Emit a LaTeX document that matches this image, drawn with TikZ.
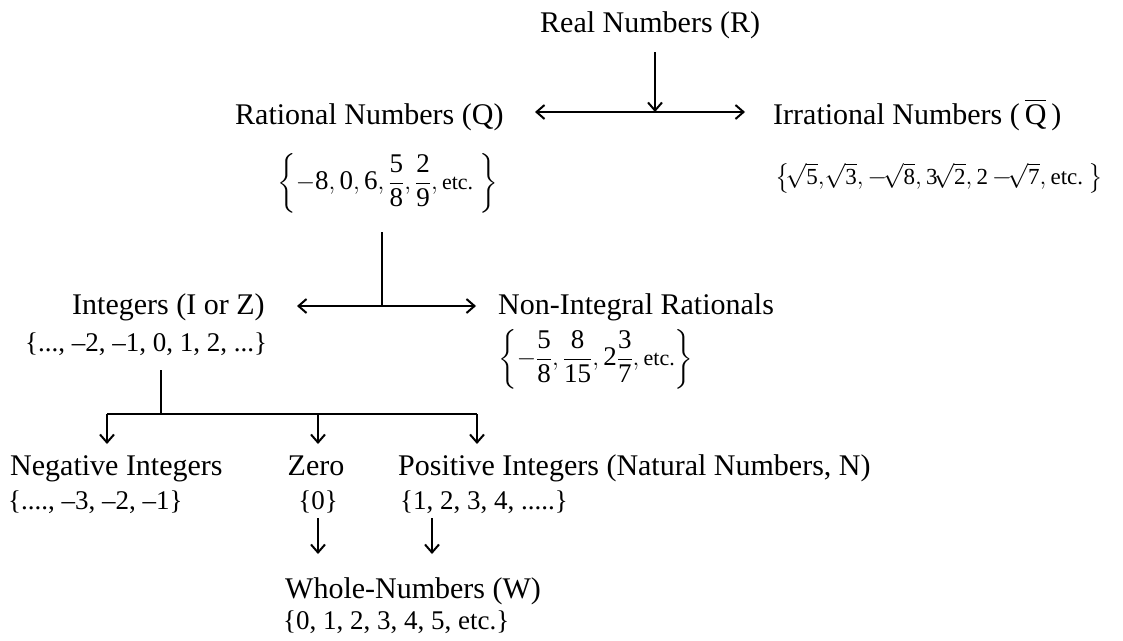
\documentclass[tikz,border=0pt]{standalone}
\usepackage{amsmath}
\usepackage{fontspec}
\setmainfont{Liberation Serif}
\usetikzlibrary{arrows.meta}
\newcommand{\tx}[1]{\text{#1}}
\newcommand{\fr}[2]{\dfrac{\text{#1}}{\text{#2}}}
\tikzset{
  lbl/.style={font=\fontsize{30}{34}\selectfont, inner sep=0pt},
  setl/.style={font=\fontsize{27}{31}\selectfont, inner sep=0pt},
  conn/.style={line width=2pt},
  tipA/.tip={Straight Barb[length=8pt,width=14pt,line width=2pt]},
  arr/.style={conn,-tipA},
}
\begin{document}
\begin{tikzpicture}[x=1pt,y=-1pt]
\useasboundingbox (0,0) rectangle (1123,640);
% level 1
\node[lbl,anchor=base west] (real) at (540,32) {Real Numbers (R)};
\node[lbl,anchor=base west] (rat) at (235,124) {Rational Numbers (Q)};
\node[lbl,anchor=base west] (irr) at (773,124) {Irrational Numbers (\,$\overline{\mathrm{Q}}$\,)};
\node[setl,anchor=west] (ratset) at (277,183) {$\displaystyle\left\{-\tx{8},\tx{0},\tx{6},\fr{5}{8},\fr{2}{9},\tx{\fontsize{22}{24}\selectfont etc.}\ \right\}$};
\node[setl,anchor=west] (irrset) at (775,178) {\fontsize{23}{27}\selectfont$\left\{\!\sqrt{\tx{5}},\!\sqrt{\tx{3}},-\!\sqrt{\tx{8}},\tx{3}\!\sqrt{\tx{2}},\tx{2}\,{-}\!\sqrt{\tx{7}},\tx{etc.}\ \right\}$};
\coordinate (j1) at (655,112);
\coordinate (l1) at (535,112);
\coordinate (r1) at (745,112);
\draw[arr] (655,52) -- (j1);
\draw[arr] (j1) -- (l1);
\draw[arr] (j1) -- (r1);
% level 2
\node[lbl,anchor=base west] (int) at (72,314) {Integers (I or Z)};
\node[lbl,anchor=base west] (nonint) at (498,314) {Non-Integral Rationals};
\node[setl,anchor=base west] (intset) at (25,351) {\{..., –2, –1, 0, 1, 2, ...\}};
\node[setl,anchor=west] (nonintset) at (498,359) {$\displaystyle\left\{-\fr{5}{8},\fr{8}{15},\tx{2}\fr{3}{7},\tx{\fontsize{22}{24}\selectfont etc.}\right\}$};
\coordinate (j2) at (382,306);
\coordinate (l2) at (297,306);
\coordinate (r2) at (476,306);
\draw[conn] (382,232) -- (j2);
\draw[arr] (j2) -- (l2);
\draw[arr] (j2) -- (r2);
% level 3
\coordinate (j3) at (161,414);
\draw[conn] (161,370) -- (j3);
\draw[conn] (107,414) -- (477,414);
\node[lbl,anchor=base west] (neg) at (10,475) {Negative Integers};
\node[lbl,anchor=base] (zero) at (316,475) {Zero};
\node[lbl,anchor=base west] (pos) at (398,475) {Positive Integers (Natural Numbers, N)};
\node[setl,anchor=base west] (negset) at (8,509) {\{...., –3, –2, –1\}};
\node[setl,anchor=base] (zeroset) at (318,509) {\{0\}};
\node[setl,anchor=base west] (posset) at (400,509) {\{1, 2, 3, 4, .....\}};
\draw[arr] (107,414) -- (107,444);
\draw[arr] (318,414) -- (318,444);
\draw[arr] (477,414) -- (477,444);
% level 4
\node[lbl,anchor=base west] (whole) at (285,598) {Whole-Numbers (W)};
\node[setl,anchor=base west] (wholeset) at (283,629) {\{0, 1, 2, 3, 4, 5, etc.\}};
\draw[arr] (318,518) -- (318,554);
\draw[arr] (432,518) -- (432,554);
\end{tikzpicture}
\end{document}
